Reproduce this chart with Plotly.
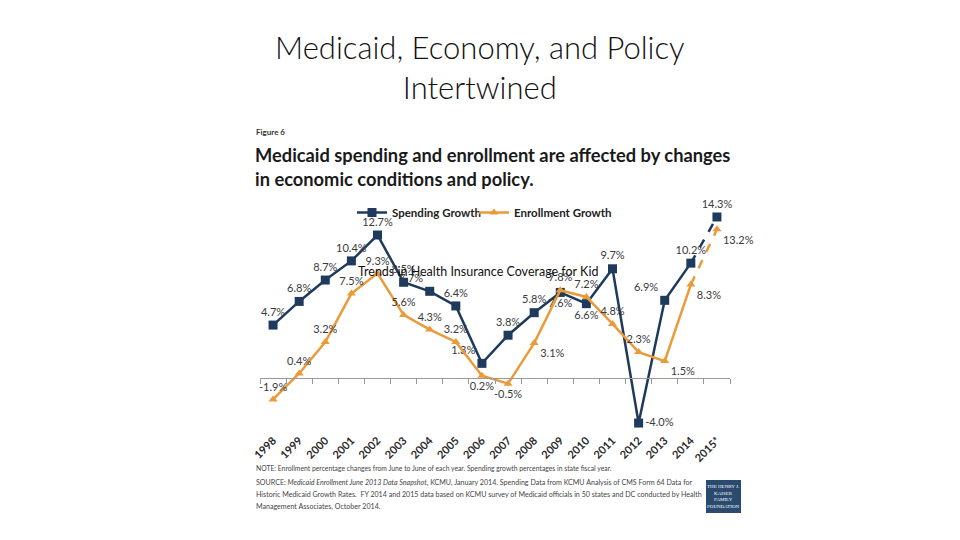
import plotly.graph_objects as go

years = ["1998", "1999", "2000", "2001", "2002", "2003", "2004", "2005", "2006",
         "2007", "2008", "2009", "2010", "2011", "2012", "2013", "2014", "2015*"]
spending = [4.7, 6.8, 8.7, 10.4, 12.7, 8.5, 7.7, 6.4, 1.3, 3.8, 5.8, 7.6, 6.6, 9.7, -4.0, 6.9, 10.2, 14.3]
enrollment = [-1.9, 0.4, 3.2, 7.5, 9.3, 5.6, 4.3, 3.2, 0.2, -0.5, 3.1, 7.8, 7.2, 4.8, 2.3, 1.5, 8.3, 13.2]
spending_pos = ["top center"] * 6 + ["top left", "top center", "top left", "top center", "top center",
                "bottom center", "bottom center", "top center", "middle right", "top left", "top center", "top center"]
enroll_pos = ["top center"] * 8 + ["bottom center", "bottom center", "bottom right", "top center",
              "top center", "top center", "top center", "bottom right", "bottom right", "bottom right"]

NAVY = "#1E3A5C"
ORANGE = "#EB9A3A"
LBL = "#3a3a3a"

xs = list(range(len(years)))
n_solid = len(years) - 1

def lab(v):
    return f"{v:.1f}%"

fig = go.Figure()
series = [
    ("Spending Growth", spending, spending_pos, NAVY, "square", 9, "legend"),
    ("Enrollment Growth", enrollment, enroll_pos, ORANGE, "triangle-up", 8, "legend2"),
]
for name, vals, pos, color, sym, size, lg in series:
    fig.add_trace(go.Scatter(
        x=xs[:n_solid], y=vals[:n_solid], mode="lines+markers+text", name=name, legend=lg,
        line=dict(color=color, width=2.5), marker=dict(symbol=sym, size=size, color=color),
        text=[lab(v) for v in vals[:n_solid]], textposition=pos[:n_solid],
        textfont=dict(family="Lato", size=11, color=LBL), cliponaxis=False))
    fig.add_trace(go.Scatter(
        x=xs[-2:], y=vals[-2:], mode="lines", showlegend=False,
        line=dict(color=color, width=2.5, dash="dash"), hoverinfo="skip"))
    fig.add_trace(go.Scatter(
        x=xs[-1:], y=vals[-1:], mode="markers+text", showlegend=False,
        marker=dict(symbol=sym, size=size, color=color),
        text=[lab(vals[-1])], textposition=[pos[-1]],
        textfont=dict(family="Lato", size=11, color=LBL), cliponaxis=False))

L, R, T, B = 260, 730, 200, 431
W, H = 960, 540
ZERO_PX = 378
PX_PER_UNIT = 11.26
ymax = (ZERO_PX - T) / PX_PER_UNIT
ymin = -(B - ZERO_PX) / PX_PER_UNIT

def px(x):
    return (x - L) / (R - L)

def py(y):
    return (B - y) / (B - T)

legend_common = dict(orientation="h", xanchor="left", yanchor="top", bgcolor="rgba(0,0,0,0)",
                     font=dict(family="Lato", size=11.5, color="#222", weight="bold"), itemwidth=30)
fig.update_layout(
    width=W, height=H,
    margin=dict(l=L, r=W - R, t=T, b=H - B, autoexpand=False),
    paper_bgcolor="white", plot_bgcolor="white",
    font=dict(family="Lato", color="#222"),
    xaxis=dict(range=[-0.5, len(years) - 0.5], tickmode="array", tickvals=xs, ticktext=years,
               tickangle=-45, showgrid=False, zeroline=False, showline=False, ticks="",
               tickfont=dict(family="Lato", size=11, color="#2a2a2a", weight="bold")),
    xaxis2=dict(range=[-0.5, len(years) - 0.5], overlaying="x", anchor="free",
                position=(0 - ymin) / (ymax - ymin), side="bottom",
                tickmode="array", tickvals=[i - 0.5 for i in range(len(years) + 1)],
                ticks="outside", ticklen=5, tickcolor="#999", showticklabels=False,
                showline=True, linecolor="#999", linewidth=1, showgrid=False, zeroline=False),
    yaxis=dict(range=[ymin, ymax], visible=False),
    legend=dict(x=px(352), y=py(198), **legend_common),
    legend2=dict(x=px(474), y=py(198), **legend_common),
)
fig.add_trace(go.Scatter(x=[xs[0]], y=[0], xaxis="x2", mode="markers", marker=dict(opacity=0),
                         showlegend=False, hoverinfo="skip"))

def ann(text, x, y, size, xanchor="left", yanchor="middle", color="#222", weight="normal", family="Lato", align="left"):
    fig.add_annotation(text=text, x=px(x), y=py(y), xref="paper", yref="paper", showarrow=False,
                       xanchor=xanchor, yanchor=yanchor, align=align,
                       font=dict(family=family, size=size, color=color, weight=weight))

ann("Medicaid, Economy, and Policy<br>Intertwined", 480, 67, 31, xanchor="center", color="#111",
    weight=300, align="center")
ann("Figure 6", 254, 132, 8, color="#333", weight="bold")
ann("Medicaid spending and enrollment are affected by changes<br>in economic conditions and policy.",
    253, 167, 18.3, color="#1a1a1a", weight="bold")
ann("Trends in Health Insurance Coverage for Kid", 478, 271, 12.5, xanchor="center", color="#111")
ann("NOTE: Enrollment percentage changes from June to June of each year. Spending growth percentages in state fiscal year.",
    254, 468, 6.8, color="#444")
source_lines = [
    "SOURCE: <i>Medicaid Enrollment June 2013 Data Snapshot</i>, KCMU, January 2014. Spending Data from KCMU Analysis of CMS Form 64 Data for",
    "Historic Medicaid Growth Rates.  FY 2014 and 2015 data based on KCMU survey of Medicaid officials in 50 states and DC conducted by Health",
    "Management Associates, October 2014.",
]
for i, line in enumerate(source_lines):
    ann(line, 254, 482 + 12 * i, 7.1, color="#444")

fig.add_shape(type="rect", xref="paper", yref="paper", x0=px(706), x1=px(741), y0=py(513), y1=py(480),
              fillcolor="#2A4A70", line=dict(width=0))
ann("THE HENRY J.<br>KAISER<br>FAMILY<br>FOUNDATION", 723.5, 496.5, 5, xanchor="center", color="white",
    family="Liberation Serif", align="center")

fig.write_html("out.html", post_script="document.body.style.margin='0';",
               config={"displayModeBar": False})
